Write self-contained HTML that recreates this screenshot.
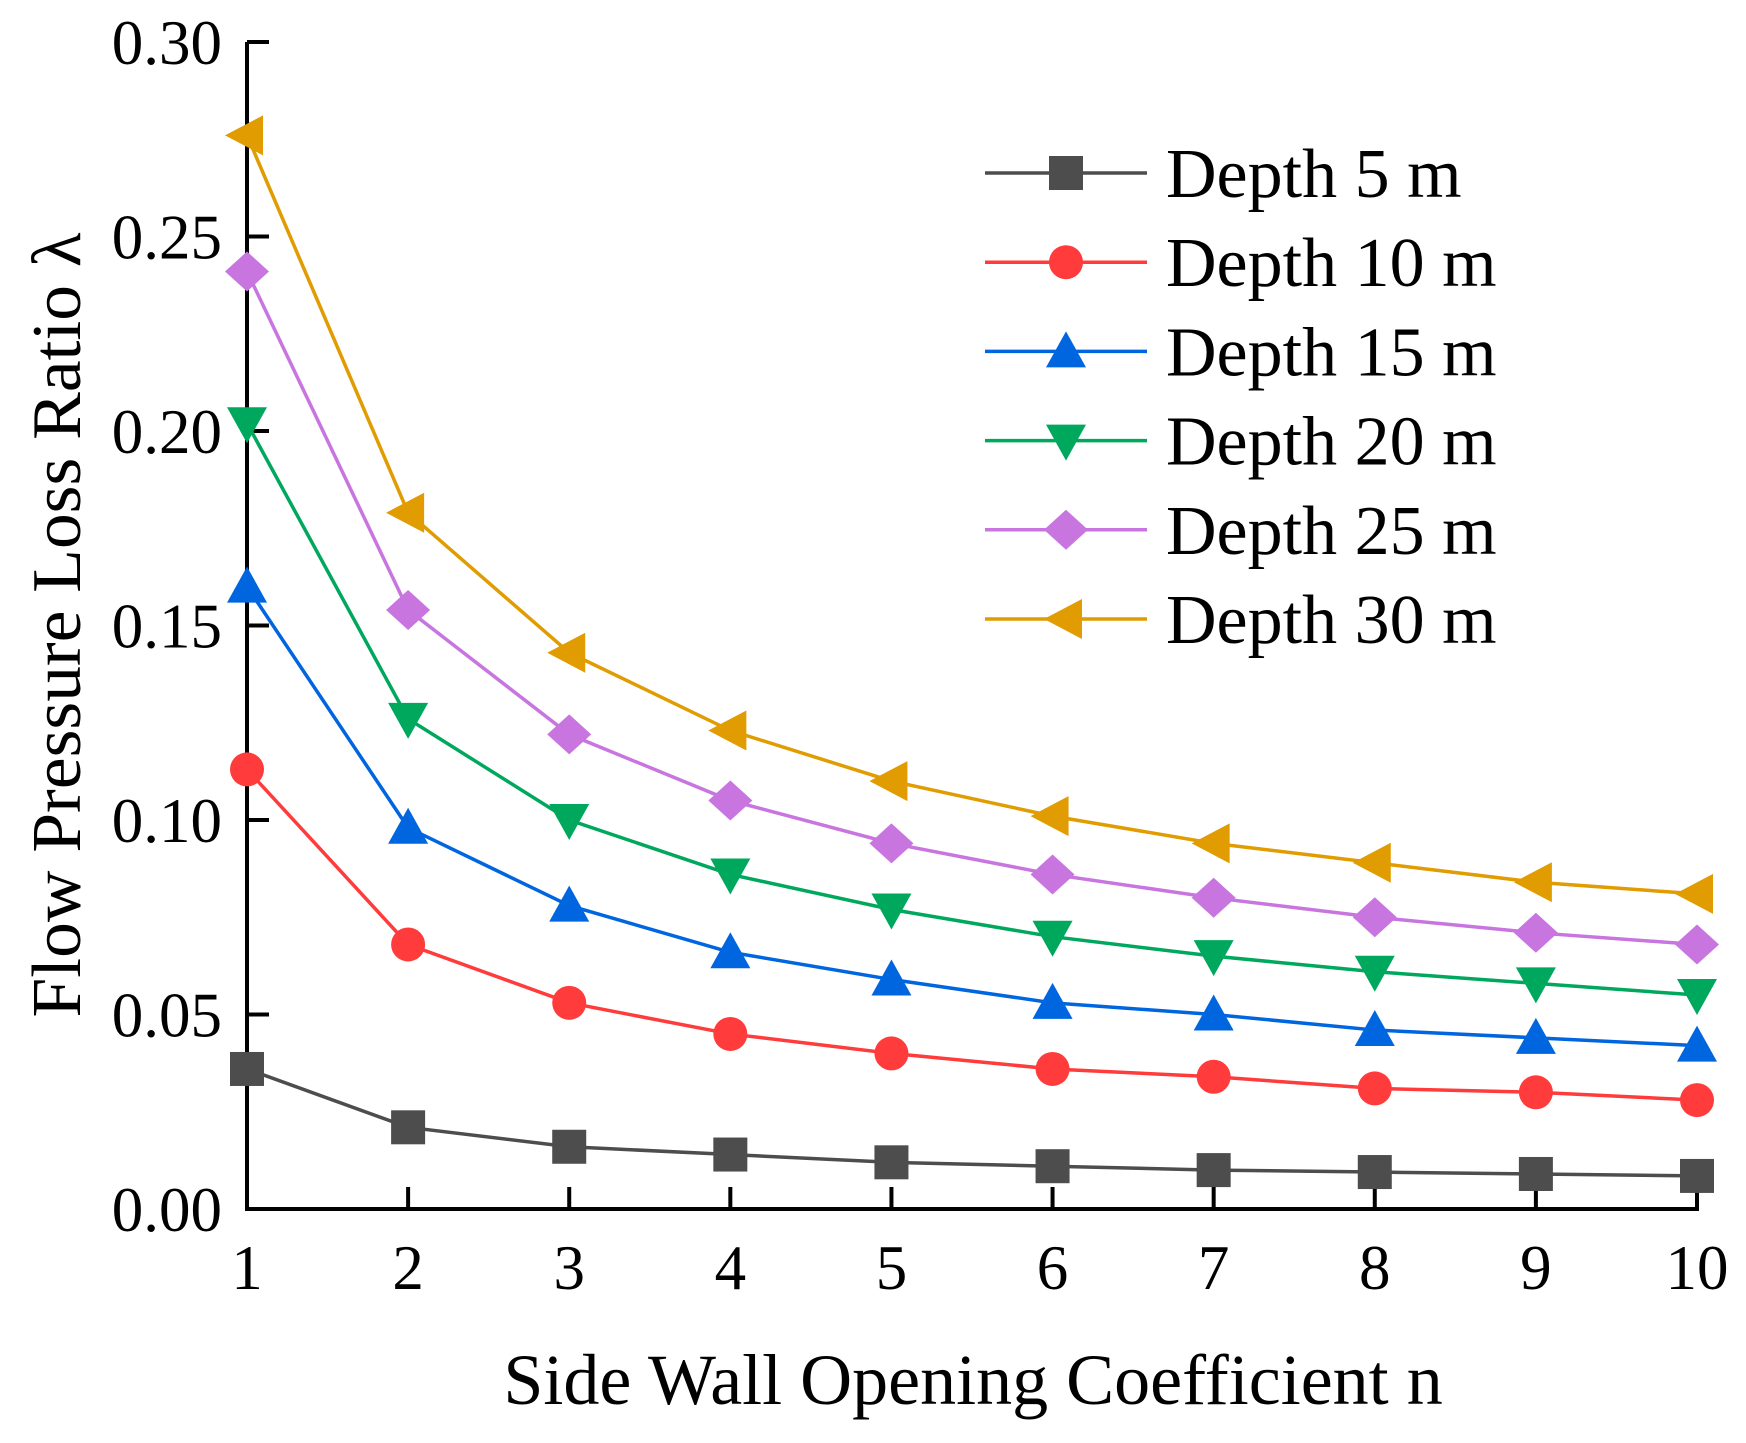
<!DOCTYPE html>
<html><head><meta charset="utf-8"><style>html,body{margin:0;padding:0;background:#fff}svg{display:block}</style></head>
<body>
<svg id="chart" width="1746" height="1443" xmlns="http://www.w3.org/2000/svg" font-family="Liberation Serif, serif"></svg>
<script>
const categories=[1,2,3,4,5,6,7,8,9,10];
const yTicks=[0,0.05,0.10,0.15,0.20,0.25,0.30];
const yTickLabels=["0.00","0.05","0.10","0.15","0.20","0.25","0.30"];
const seriesNames=["Depth 5 m","Depth 10 m","Depth 15 m","Depth 20 m","Depth 25 m","Depth 30 m"];
const depth5=[0.036,0.021,0.016,0.014,0.012,0.011,0.010,0.0095,0.009,0.0085];
const depth10=[0.113,0.068,0.053,0.045,0.040,0.036,0.034,0.031,0.030,0.028];
const depth15=[0.160,0.098,0.078,0.066,0.059,0.053,0.050,0.046,0.044,0.042];
const depth20=[0.202,0.126,0.100,0.086,0.077,0.070,0.065,0.061,0.058,0.055];
const depth25=[0.241,0.154,0.122,0.105,0.094,0.086,0.080,0.075,0.071,0.068];
const depth30=[0.276,0.179,0.143,0.123,0.110,0.101,0.094,0.089,0.084,0.081];

const svg=document.getElementById('chart');
const NS='http://www.w3.org/2000/svg';
const X0=247,X1=1697,Y0=1209,Y1=42;
const xs=v=>X0+(v-1)/9*(X1-X0);
const ys=v=>Y0-v/0.30*(Y0-Y1);
function mk(tag,attrs,parent){const e=document.createElementNS(NS,tag);for(const k in attrs)e.setAttribute(k,attrs[k]);(parent||svg).appendChild(e);return e;}

const series=[
 {d:depth5,c:'#4d4d4d',m:'square'},
 {d:depth10,c:'#ff3b3b',m:'circle'},
 {d:depth15,c:'#0066e0',m:'up'},
 {d:depth20,c:'#00a85e',m:'down'},
 {d:depth25,c:'#c875e0',m:'diamond'},
 {d:depth30,c:'#e09c00',m:'left'}];

function marker(type,x,y,c,g){
  const s=18;let e;
  if(type==='square')e=mk('rect',{x:x-s+1,y:y-s+1,width:2*s-2,height:2*s-2,fill:c},g);
  else if(type==='circle')e=mk('circle',{cx:x,cy:y,r:s-1,fill:c},g);
  else{let p;
    if(type==='up')p=[[x,y-s-2],[x+s+2,y+s-2],[x-s-2,y+s-2]];
    else if(type==='down')p=[[x,y+s+2],[x+s+2,y-s+2],[x-s-2,y-s+2]];
    else if(type==='diamond')p=[[x,y-s-2],[x+s+4,y],[x,y+s+2],[x-s-4,y]];
    else p=[[x-s-4,y],[x+s-2,y-s-2],[x+s-2,y+s+2]];
    e=mk('polygon',{points:p.map(q=>q.join(',')).join(' '),fill:c},g);}
  return e;
}

const ax=mk('g',{});


mk('line',{x1:X0,y1:Y1,x2:X0,y2:Y0+2,stroke:'#000','stroke-width':4},ax);
mk('line',{x1:X0-2,y1:Y0,x2:X1+2,y2:Y0,stroke:'#000','stroke-width':4},ax);
yTicks.forEach((v,i)=>{
  mk('line',{x1:X0,y1:ys(v),x2:X0+22,y2:ys(v),stroke:'#000','stroke-width':4},ax);
  const t=mk('text',{x:222,y:ys(v)+22,'font-size':63,'text-anchor':'end'},ax);
  
  
  t.textContent=yTickLabels[i];
});
categories.forEach(v=>{
  mk('line',{x1:xs(v),y1:Y0,x2:xs(v),y2:Y0-22,stroke:'#000','stroke-width':4},ax);
  const t=mk('text',{x:xs(v),y:1289,'font-size':63,'text-anchor':'middle'},ax);
  
  
  t.textContent=v;
});
const xt=mk('text',{x:973,y:1404,'font-size':72,'text-anchor':'middle'});


xt.textContent='Side Wall Opening Coefficient n';
const yt=mk('text',{x:0,y:0,'font-size':70,'text-anchor':'middle',transform:'translate(80,625) rotate(-90)',textLength:785,lengthAdjust:'spacingAndGlyphs'});


yt.textContent='Flow Pressure Loss Ratio λ';

series.forEach((s,i)=>{
  const g=mk('g',{});
  
  
  const pl=mk('polyline',{points:s.d.map((v,j)=>xs(categories[j])+','+ys(v)).join(' '),fill:'none',stroke:s.c,'stroke-width':3.5},g);
  
  
  s.d.forEach((v,j)=>{
    const m=marker(s.m,xs(categories[j]),ys(v),s.c,g);
    
    
  });
});

const lg=mk('g',{});


series.forEach((s,i)=>{
  const y=173+i*89.2;
  const e=mk('g',{},lg);
  
  
  mk('line',{x1:985,y1:y,x2:1147,y2:y,stroke:s.c,'stroke-width':3.5},e);
  marker(s.m,1066,y,s.c,e);
  const t=mk('text',{x:1166,y:y+24,'font-size':70},e);
  t.textContent=seriesNames[i];
});
</script>
</body></html>
